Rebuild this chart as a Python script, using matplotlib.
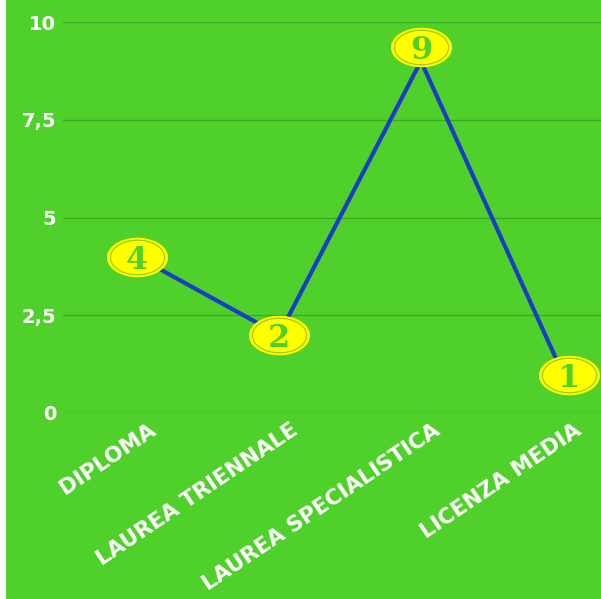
import matplotlib
matplotlib.use("Agg")
import matplotlib.pyplot as plt
import matplotlib.transforms as mtransforms
from matplotlib.path import Path
from matplotlib.patches import Rectangle
import numpy as np

categories = ["DIPLOMA", "LAUREA TRIENNALE", "LAUREA SPECIALISTICA", "LICENZA MEDIA"]
values = [4, 2, 9, 1]
labels = ["4", "2", "9", "1"]
yticks = [0, 2.5, 5, 7.5, 10]
ytick_labels = ["0", "2,5", "5", "7,5", "10"]

GREEN = "#50d02a"
GRID = "#3daa22"
BLUE = "#1b3fc4"
YELLOW = "#ffff00"

fig = plt.figure(figsize=(6.01, 5.99), dpi=100, facecolor=GREEN)
fig.patches.append(Rectangle((0, 0), 6 / 601, 1, transform=fig.transFigure,
                             facecolor="white", edgecolor="none", zorder=0))
ax = fig.add_axes([63 / 601, 1 - 413 / 599, 1 - 63 / 601, (413 - 22) / 599])
ax.set_facecolor(GREEN)
for s in ax.spines.values():
    s.set_visible(False)

x = np.arange(len(categories))
ax.plot(x, values, color=BLUE, lw=3, zorder=3, solid_capstyle="round")

ax.set_xlim(-0.521, 3.268)
ax.set_ylim(0, 10)
ax.set_yticks(yticks)
ax.set_yticklabels(ytick_labels, color="white", fontsize=14, fontweight="bold",
                   family="DejaVu Sans")
ax.yaxis.grid(True, color=GRID, lw=1)
ax.set_axisbelow(True)
ax.tick_params(axis="y", length=0, pad=5)
ax.tick_params(axis="x", length=0, pad=2)
ax.set_xticks(x)
ax.set_xticklabels(categories, rotation=34, ha="right", va="top",
                   rotation_mode="anchor", color="white", fontsize=15.5,
                   fontweight="bold", family="DejaVu Sans")
off = mtransforms.ScaledTranslation(8 / 72, -3 / 72, fig.dpi_scale_trans)
for t in ax.get_xticklabels():
    t.set_transform(t.get_transform() + off)

# elliptical marker
th = np.linspace(0, 2 * np.pi, 100)
ell = Path(np.column_stack([np.cos(th) * 29, np.sin(th) * 18.5]))

offsets = [(0, 0), (0, 0), (0, 10), (4, -1)]
for xi, v, lab, (dx, dy) in zip(x, values, labels, offsets):
    tr = ax.transData + mtransforms.ScaledTranslation(dx / 72, dy / 72, fig.dpi_scale_trans)
    ax.plot([xi], [v], marker=ell, markersize=43, markerfacecolor=YELLOW,
            markeredgecolor=YELLOW, mew=1, transform=tr, clip_on=False, zorder=4)
    ax.plot([xi], [v], marker=ell, markersize=39, markerfacecolor="none",
            markeredgecolor="#a4c81c", mew=0.9, transform=tr, clip_on=False, zorder=5)
    ax.text(xi, v, lab, transform=tr, ha="center", va="center_baseline",
            fontsize=23, fontweight="bold", family="DejaVu Serif",
            color=GREEN, zorder=6, clip_on=False)

fig.savefig("out.png", dpi=100, facecolor=GREEN)
